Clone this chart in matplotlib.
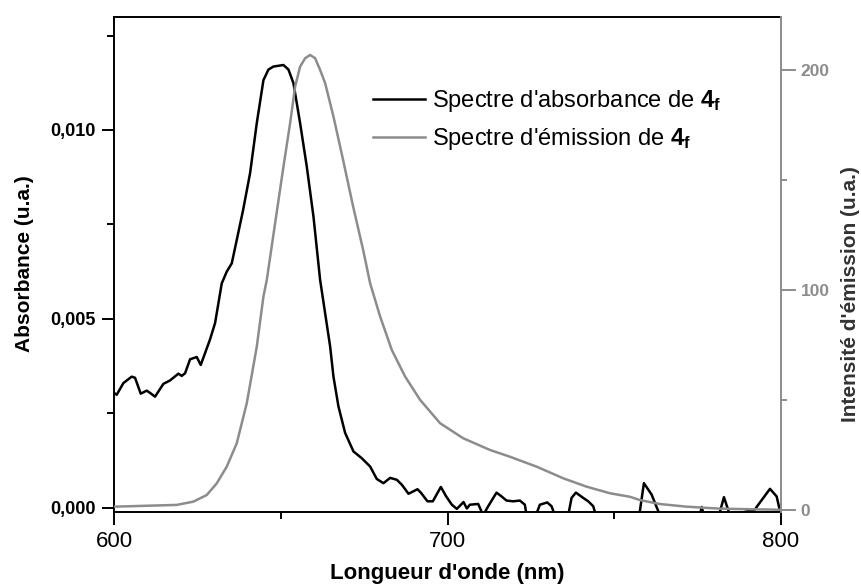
import matplotlib
matplotlib.use("Agg")
import matplotlib.pyplot as plt
from matplotlib.ticker import MultipleLocator, FuncFormatter

plt.rcParams['font.family'] = ['Liberation Sans', 'DejaVu Sans']
plt.rcParams['mathtext.fontset'] = 'custom'
plt.rcParams['mathtext.rm'] = 'Liberation Sans'
plt.rcParams['mathtext.bf'] = 'Liberation Sans:bold'

GREY = '#8c8c8c'

# absorbance spectrum (nm, a.u.)
abs_nm = [600.0, 600.8, 602.8, 605.3, 606.3, 608.0, 609.8, 610.8, 612.3, 614.8,
          616.8, 619.3, 620.3, 621.3, 622.8, 624.8, 626.0, 628.8, 630.3, 632.3,
          633.8, 635.3, 636.8, 638.7, 640.8, 642.8, 644.8, 646.3, 647.8, 650.8,
          652.3, 653.8, 655.8, 657.8, 659.8, 661.8, 664.8, 665.8, 667.3, 669.3,
          671.8, 674.3, 676.8, 678.8, 680.8, 682.8, 684.8, 686.3, 688.3, 691.0,
          692.0, 694.0, 695.6, 698.0, 699.6, 701.3, 702.8, 704.8, 705.8, 706.7,
          709.2, 710.7, 712.2, 714.7, 716.2, 717.7, 719.7, 721.7, 723.2, 723.7,
          726.5, 727.7, 729.9, 731.2, 732.2, 736.2, 737.2, 738.5, 740.7, 742.2,
          743.7, 744.5, 757.5, 758.9, 761.2, 763.7, 775.7, 776.2, 776.9, 781.4,
          782.9, 784.7, 792.2, 792.7, 796.7, 798.7, 800.0]
abs_val = [0.00304, 0.00299, 0.00330, 0.00347, 0.00344, 0.00302, 0.00310, 0.00304, 0.00294, 0.00328,
           0.00337, 0.00355, 0.00349, 0.00356, 0.00393, 0.00399, 0.00378, 0.00446, 0.00489, 0.00594,
           0.00625, 0.00647, 0.00709, 0.00788, 0.00886, 0.01018, 0.01132, 0.01160, 0.01168, 0.01172,
           0.01160, 0.01124, 0.01018, 0.00903, 0.00771, 0.00603, 0.00427, 0.00347, 0.00268, 0.00198,
           0.00149, 0.00131, 0.00109, 0.00076, 0.00065, 0.00079, 0.00074, 0.00061, 0.00037, 0.00049,
           0.00040, 0.00017, 0.00017, 0.00055, 0.00030, 0.00008, -0.00003, 0.00015, -0.00002, 0.00008,
           0.00010, -0.00020, 0.00004, 0.00040, 0.00030, 0.00019, 0.00017, 0.00019, 0.00008, -0.00020,
           -0.00020, 0.00008, 0.00014, 0.00004, -0.00020, -0.00020, 0.00026, 0.00040, 0.00026, 0.00017,
           0.00004, -0.00020, -0.00020, 0.00065, 0.00035, -0.00020, -0.00020, 0.00002, -0.00020, -0.00020,
           0.00028, -0.00020, -0.00005, 0.00002, 0.00050, 0.00030, -0.00020]

# emission spectrum (nm, a.u.)
em_nm = [600.0, 618.8, 623.8, 627.8, 630.8, 633.8, 636.8, 639.8, 642.8, 644.8,
         645.8, 648.3, 650.8, 652.8, 654.3, 655.8, 657.3, 658.8, 660.3, 661.8,
         663.3, 665.8, 668.7, 671.7, 674.7, 676.8, 679.8, 683.3, 687.3, 691.8,
         697.8, 704.7, 712.7, 718.7, 726.7, 734.7, 741.7, 748.7, 754.7, 757.7,
         763.7, 771.7, 781.7, 791.7, 800.0]
em_val = [1.5, 2.3, 3.8, 6.8, 12.1, 19.7, 30.3, 48.5, 74.2, 97.0,
          104.5, 130.3, 156.0, 175.8, 192.4, 201.5, 205.3, 206.8, 205.3, 200.0,
          194.0, 178.8, 159.0, 137.9, 118.2, 103.0, 87.9, 72.7, 60.6, 50.0,
          39.4, 32.6, 27.3, 24.2, 19.7, 14.4, 10.6, 7.6, 6.0, 4.5,
          2.7, 1.5, 0.6, 0.3, 0.1]

fig = plt.figure(figsize=(8.62, 5.87), dpi=100)
ax = fig.add_axes([0.1323, 0.1286, 0.906 - 0.1323, 0.9716 - 0.1286])
ax2 = ax.twinx()

l1, = ax.plot(abs_nm, abs_val, color='black', lw=1.8,
              label="Spectre d'absorbance de $\\mathbf{4_f}$")
l2, = ax2.plot(em_nm, em_val, color=GREY, lw=1.8,
               label="Spectre d'émission de $\\mathbf{4_f}$")

ax.set_xlim(600, 800)
ax.set_ylim(-0.0001, 0.013)
ax2.set_ylim(-0.7, 224.2)

ax.xaxis.set_major_locator(MultipleLocator(100))
ax.xaxis.set_minor_locator(MultipleLocator(50))
ax.yaxis.set_major_locator(MultipleLocator(0.005))
ax.yaxis.set_minor_locator(MultipleLocator(0.0025))
ax.yaxis.set_major_formatter(FuncFormatter(lambda v, p: f"{v:.3f}".replace('.', ',')))
ax2.yaxis.set_major_locator(MultipleLocator(100))
ax2.yaxis.set_minor_locator(MultipleLocator(50))

for s in ax.spines.values():
    s.set_linewidth(1.4)
ax.spines['right'].set_visible(False)
for side in ['left', 'top', 'bottom']:
    ax2.spines[side].set_visible(False)
ax2.spines['right'].set_color(GREY)
ax2.spines['right'].set_linewidth(1.4)

ax.tick_params(axis='both', which='major', direction='out', length=9, width=1.4)
ax.tick_params(axis='both', which='minor', direction='out', length=5, width=1.4)
ax.tick_params(axis='x', labelsize=16, pad=5)
ax.tick_params(axis='y', labelsize=13, pad=4)
for t in ax.get_yticklabels():
    t.set_fontweight('bold')

ax2.tick_params(axis='y', which='major', direction='out', length=11, width=1.4,
                color=GREY, labelcolor=GREY, labelsize=12.5, pad=3)
ax2.tick_params(axis='y', which='minor', direction='out', length=4, width=1.4, color=GREY)
for t in ax2.get_yticklabels():
    t.set_fontweight('bold')

ax.set_ylabel('Absorbance (u.a.)', fontsize=15, fontweight='bold', labelpad=12)
ax2.set_ylabel("Intensité d'émission (u.a.)", fontsize=15, fontweight='bold',
               color='#333333')
ax2.yaxis.set_label_coords(1.09, 0.44)
ax.set_xlabel("Longueur d'onde (nm)", fontsize=16, fontweight='bold', labelpad=8)

fig.legend(handles=[l1, l2], loc='center left', bbox_to_anchor=(373 / 862, 1 - 120 / 587),
           frameon=False, fontsize=17, borderpad=0, borderaxespad=0,
           handlelength=2.2, handletextpad=0.3, labelspacing=0.5)

fig.savefig('out.png', dpi=100)
